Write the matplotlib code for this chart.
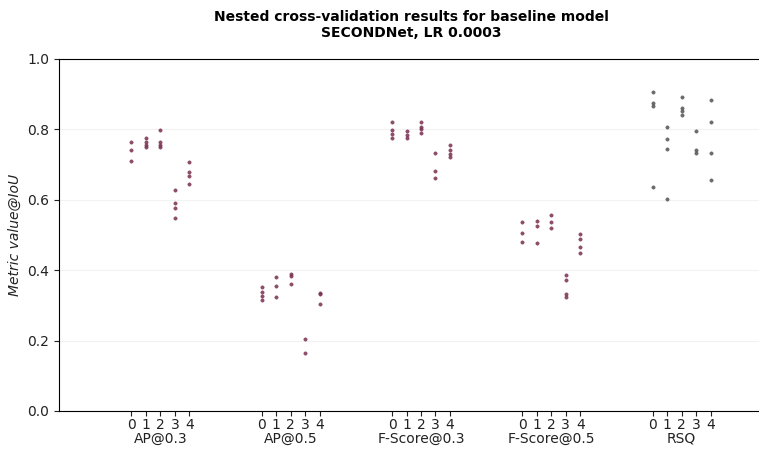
import numpy as np
import matplotlib
matplotlib.use('Agg')
from matplotlib import pyplot as plt
from matplotlib import transforms

metrics = ['AP@0.3', 'AP@0.5', 'F-Score@0.3', 'F-Score@0.5', 'RSQ']
folds = [0, 1, 2, 3, 4]

# per metric: one list of inner-run scores for each outer fold
ap_03 = [[0.764, 0.741, 0.710],
         [0.775, 0.765, 0.757, 0.750],
         [0.798, 0.765, 0.757, 0.750],
         [0.628, 0.590, 0.577, 0.548],
         [0.707, 0.680, 0.668, 0.645]]
ap_05 = [[0.352, 0.337, 0.326, 0.315],
         [0.380, 0.355, 0.324],
         [0.389, 0.383, 0.360],
         [0.205, 0.165],
         [0.336, 0.333, 0.305]]
fscore_03 = [[0.821, 0.798, 0.786, 0.776],
             [0.795, 0.785, 0.776],
             [0.820, 0.808, 0.800, 0.790],
             [0.733, 0.682, 0.662],
             [0.756, 0.741, 0.731, 0.722]]
fscore_05 = [[0.537, 0.506, 0.480],
             [0.540, 0.525, 0.478],
             [0.557, 0.538, 0.520],
             [0.386, 0.372, 0.333, 0.324],
             [0.503, 0.490, 0.466, 0.449]]
rsq = [[0.906, 0.875, 0.866, 0.636],
       [0.807, 0.773, 0.744, 0.602],
       [0.892, 0.861, 0.851, 0.841],
       [0.795, 0.741, 0.733],
       [0.883, 0.821, 0.733, 0.656]]

results = [ap_03, ap_05, fscore_03, fscore_05, rsq]
dot_colors = ['#7a3152', '#7a3152', '#7a3152', '#7a3152', '#555555']

spacing = 9  # x distance between metric groups

fig = plt.figure(figsize=(7.59, 4.51), dpi=100)
ax = fig.add_axes([59/759, 40/451, 724/759, 352/451])

for g, (metric, per_fold) in enumerate(zip(metrics, results)):
    for f, values in zip(folds, per_fold):
        xs = np.full(len(values), g*spacing + f)
        ax.plot(xs, values, 'o', ms=2.4, color=dot_colors[g], alpha=0.85,
                markeredgewidth=0.4)

ticks = [g*spacing + f for g in range(len(metrics)) for f in folds]
ax.set_xticks(ticks)
ax.set_xticklabels([str(f) for _ in metrics for f in folds])
ax.set_xlim(-5, (len(metrics) - 1)*spacing + 4 + 5)

trans = transforms.blended_transform_factory(ax.transData, ax.transAxes)
for g, metric in enumerate(metrics):
    ax.text(g*spacing + 2, -0.058, metric, transform=trans, ha='center', va='top',
            fontsize=10, color='#222222')

ax.set_ylim(0, 1.0)
ax.set_yticks(np.arange(0, 1.01, 0.2))
ax.yaxis.set_major_formatter(matplotlib.ticker.FormatStrFormatter('%.1f'))
ax.grid(axis='y', color='#f2f2f2', lw=0.8)
ax.set_axisbelow(True)
ax.tick_params(labelsize=10, colors='#222222', length=3.5)
ax.tick_params(axis='x', pad=1.5)
ax.spines['right'].set_visible(False)

ax.set_ylabel('Metric value@IoU', style='italic', fontsize=10, color='#222222')
ax.set_title('Nested cross-validation results for baseline model\nSECONDNet, LR 0.0003',
             fontweight='bold', fontsize=10, pad=16, x=(411 - 59)/724)

fig.savefig('out.png', dpi=100)
